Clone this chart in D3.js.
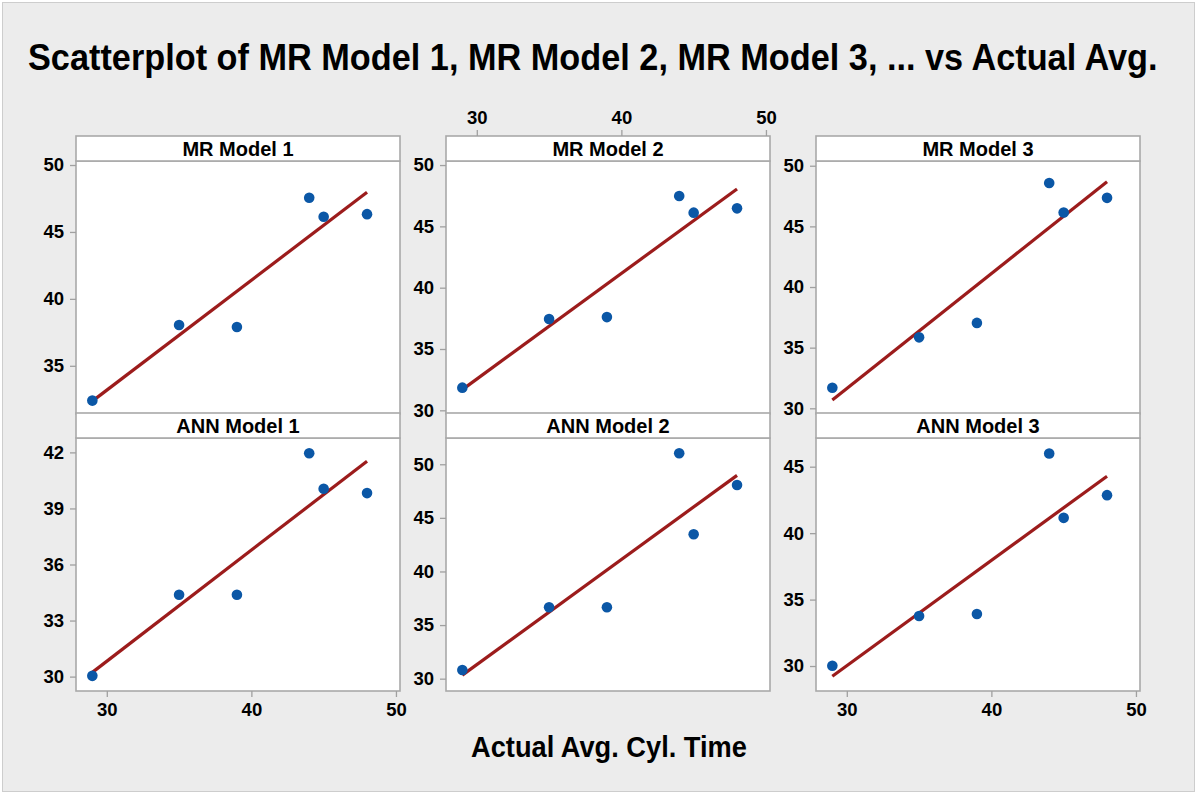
<!DOCTYPE html>
<html>
<head>
<meta charset="utf-8">
<script src="https://cdn.jsdelivr.net/npm/d3@7"></script>
<style>
  body { margin: 0; background: #fff; }
  text { font-family: "Liberation Sans", Arial, sans-serif; font-weight: bold; fill: #000; }
  .axis path { display: none; }
  .axis line { stroke: #a0a0a0; stroke-width: 1.3; }
  .axis text { font-size: 18.5px; }
</style>
</head>
<body>
<div id="chart"></div>
<script>
var w = 1198, h = 796;

// data
var actualAvg = [29, 35, 39, 44, 45, 48];
var mrModel1 = [32.4, 38.05, 37.9, 47.55, 46.13, 46.33];
var mrModel2 = [31.85, 37.45, 37.6, 47.48, 46.12, 46.47];
var mrModel3 = [31.7, 35.85, 37.04, 48.57, 46.14, 47.35];
var annModel1 = [30.04, 34.38, 34.38, 41.95, 40.05, 39.82];
var annModel2 = [30.81, 36.66, 36.66, 51.03, 43.47, 48.07];
var annModel3 = [30.02, 33.76, 33.91, 45.99, 41.15, 42.86];

var panelNames = ["MR Model 1", "MR Model 2", "MR Model 3", "ANN Model 1", "ANN Model 2", "ANN Model 3"];
var panelValues = [mrModel1, mrModel2, mrModel3, annModel1, annModel2, annModel3];
var yDomains = [[31.4, 50.3], [29.7, 50.33], [29.53, 50.39], [29.23, 42.77], [28.85, 52.45], [28.12, 47.16]];
var yTicks = [[35, 40, 45, 50], [30, 35, 40, 45, 50], [30, 35, 40, 45, 50],
              [30, 33, 36, 39, 42], [30, 35, 40, 45, 50], [30, 35, 40, 45]];
var xTicks = [30, 40, 50];
var xDomain = [27.87, 50.28];

var colLeft = [76, 446, 816], colWidth = 324;
var rowTop = [136, 413], stripH = 25, plotH = 253;

var svg = d3.select("#chart").append("svg")
    .attr("width", w)
    .attr("height", h);

svg.append("rect")
    .attr("x", 2.5).attr("y", 2.5)
    .attr("width", 1192).attr("height", 789)
    .attr("fill", "#ececec")
    .attr("stroke", "#cdcdcd");

// squeeze a text horizontally so it spans the given width (the original type is condensed)
function condensed(x, y, size, width, str) {
  var g = svg.append("g");
  var t = g.append("text").style("font-size", size + "px").text(str);
  var natural = t.node().getComputedTextLength();
  g.attr("transform", "translate(" + x + "," + y + ") scale(" + (width / natural) + ",1)");
}

condensed(28, 70, 37, 1130, "Scatterplot of MR Model 1, MR Model 2, MR Model 3, ... vs Actual Avg.");
condensed(471, 757, 29, 276, "Actual Avg. Cyl. Time");

// least squares fit for the red line
function fit(xs, ys) {
  var mx = d3.mean(xs), my = d3.mean(ys);
  var sxy = d3.sum(xs, function(x, i) { return (x - mx) * (ys[i] - my); });
  var sxx = d3.sum(xs, function(x) { return (x - mx) * (x - mx); });
  var b = sxy / sxx;
  return function(x) { return my + b * (x - mx); };
}

panelNames.forEach(function(name, p) {
  var col = p % 3, row = Math.floor(p / 3);
  var left = colLeft[col], top = rowTop[row];
  var plotTop = top + stripH, plotBottom = plotTop + plotH;

  var x = d3.scaleLinear().domain(xDomain).range([left, left + colWidth]);
  var y = d3.scaleLinear().domain(yDomains[p]).range([plotBottom, plotTop]);
  var g = svg.append("g");

  g.append("rect")
      .attr("x", left).attr("y", plotTop)
      .attr("width", colWidth).attr("height", plotH)
      .attr("fill", "#fff")
      .attr("stroke", "#a9a9a9").attr("stroke-width", 1.6);

  g.append("rect")
      .attr("x", left).attr("y", top)
      .attr("width", colWidth).attr("height", stripH)
      .attr("fill", "#fff")
      .attr("stroke", "#a9a9a9").attr("stroke-width", 1.6);

  g.append("text")
      .attr("x", left + colWidth / 2).attr("y", top + 20)
      .attr("text-anchor", "middle")
      .style("font-size", "20px")
      .text(name);

  g.append("g")
      .attr("class", "axis")
      .attr("transform", "translate(" + left + ",0)")
      .call(d3.axisLeft(y).tickValues(yTicks[p]).tickSize(6).tickPadding(6));

  if (row == 0 && col == 1) {
    g.append("g")
        .attr("class", "axis")
        .attr("transform", "translate(0," + top + ")")
        .call(d3.axisTop(x).tickValues(xTicks).tickSize(6).tickPadding(6));
  }
  if (row == 1 && col != 1) {
    g.append("g")
        .attr("class", "axis")
        .attr("transform", "translate(0," + plotBottom + ")")
        .call(d3.axisBottom(x).tickValues(xTicks).tickSize(6).tickPadding(6));
  }

  var vals = panelValues[p];
  var line = fit(actualAvg, vals);
  var x0 = d3.min(actualAvg), x1 = d3.max(actualAvg);

  g.append("line")
      .attr("x1", x(x0)).attr("y1", y(line(x0)))
      .attr("x2", x(x1)).attr("y2", y(line(x1)))
      .attr("stroke", "#9c1c1c")
      .attr("stroke-width", 3.2);

  g.selectAll("circle")
      .data(actualAvg)
      .enter()
      .append("circle")
      .attr("cx", function(d) { return x(d); })
      .attr("cy", function(d, i) { return y(vals[i]); })
      .attr("r", 5.3)
      .attr("fill", "#0b57a6");
});
</script>
</body>
</html>
